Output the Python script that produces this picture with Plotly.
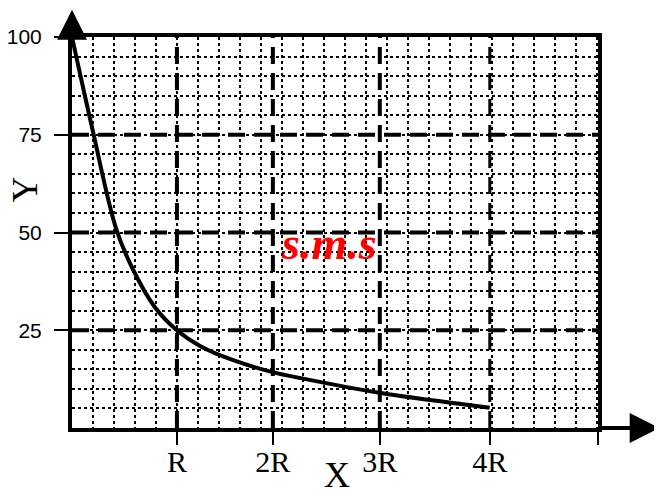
import plotly.graph_objects as go

# curve (x in units of R, y in %)
curve_x = [0, 0.19, 0.42, 0.58, 0.79, 1.0, 1.22, 1.53, 1.91, 2.17, 2.93, 3.98]
curve_y = [100, 77, 51, 40.6, 30.9, 25, 21.0, 17.4, 14.3, 12.8, 9.0, 5.2]

x_tick_vals = [1.0, 1.914, 2.933, 3.981, 5.01]
x_tick_text = ["R", "2R", "3R", "4R", ""]
y_tick_vals = [25, 50, 75, 100]

# dashed guide lines
guide_x = [1.0, 1.914, 2.933]
guide_x_thin = [3.981]
guide_y = [25, 50, 75]

X_MAX = 5.012
Y_MAX = 100
DASH = "17px,9px"
ARROW = dict(text="", showarrow=True, arrowhead=2, arrowsize=1.5, arrowwidth=4,
             arrowcolor="black", standoff=0, xref="x", yref="y", axref="x", ayref="y")

fig = go.Figure()
fig.add_scatter(x=curve_x, y=curve_y, mode="lines", cliponaxis=False,
                line=dict(color="black", width=4, shape="spline", smoothing=1.0))

for gx in guide_x:
    fig.add_shape(type="line", x0=gx, x1=gx, y0=0, y1=Y_MAX, layer="between",
                  line=dict(color="black", width=4, dash=DASH))
for gx in guide_x_thin:
    fig.add_shape(type="line", x0=gx, x1=gx, y0=0, y1=Y_MAX, layer="between",
                  line=dict(color="black", width=3, dash=DASH))
for gy in guide_y:
    fig.add_shape(type="line", x0=0, x1=X_MAX, y0=gy, y1=gy, layer="between",
                  line=dict(color="black", width=4, dash=DASH))

# axis arrows
fig.add_annotation(x=0, y=107.0, ax=0, ay=Y_MAX, **ARROW)
fig.add_annotation(x=5.6, y=0, ax=X_MAX, ay=0, **ARROW)

# labels
fig.add_annotation(x=-0.09, y=0.609, xref="paper", yref="paper", text="Y", showarrow=False,
                   xanchor="center", yanchor="middle", textangle=-90,
                   font=dict(family="Liberation Serif", size=36, color="black"))
fig.add_annotation(x=0.504, y=-0.12, xref="paper", yref="paper", text="X", showarrow=False,
                   xanchor="center", yanchor="middle",
                   font=dict(family="Liberation Serif", size=36, color="black"))
fig.add_annotation(x=2.45, y=47.1, text="<b><i>s.m.s</i></b>", showarrow=False,
                   font=dict(family="Liberation Serif", size=46, color="#ff0000"))

fig.update_xaxes(range=[0, X_MAX], showline=True, linewidth=4, linecolor="black", mirror=True,
                 ticks="outside", ticklen=13, tickwidth=2, tickcolor="black",
                 tickmode="array", tickvals=x_tick_vals, ticktext=x_tick_text,
                 ticklabelstandoff=-9, automargin=False,
                 tickfont=dict(family="Liberation Serif", size=30, color="black"),
                 showgrid=False, zeroline=False,
                 minor=dict(tickmode="linear", tick0=0, dtick=0.2, showgrid=True, griddash="dot",
                            gridcolor="black", gridwidth=1.5, ticks=""))
fig.update_yaxes(range=[0, Y_MAX], showline=True, linewidth=4, linecolor="black", mirror=True,
                 ticks="outside", ticklen=14, tickwidth=2, tickcolor="black",
                 tickmode="array", tickvals=y_tick_vals, ticklabelstandoff=8, automargin=False,
                 tickfont=dict(family="Liberation Sans", size=21, color="black"),
                 showgrid=False, zeroline=False,
                 minor=dict(tickmode="linear", tick0=0, dtick=5, showgrid=True, griddash="dot",
                            gridcolor="black", gridwidth=1.5, ticks=""))

# page has an 8px body margin, so the figure is shifted back by that much
fig.update_layout(width=654, height=487, template="plotly_white", showlegend=False,
                  plot_bgcolor="white", paper_bgcolor="white",
                  margin=dict(l=64, r=64, t=29, b=67))
fig.write_html("out.html")
